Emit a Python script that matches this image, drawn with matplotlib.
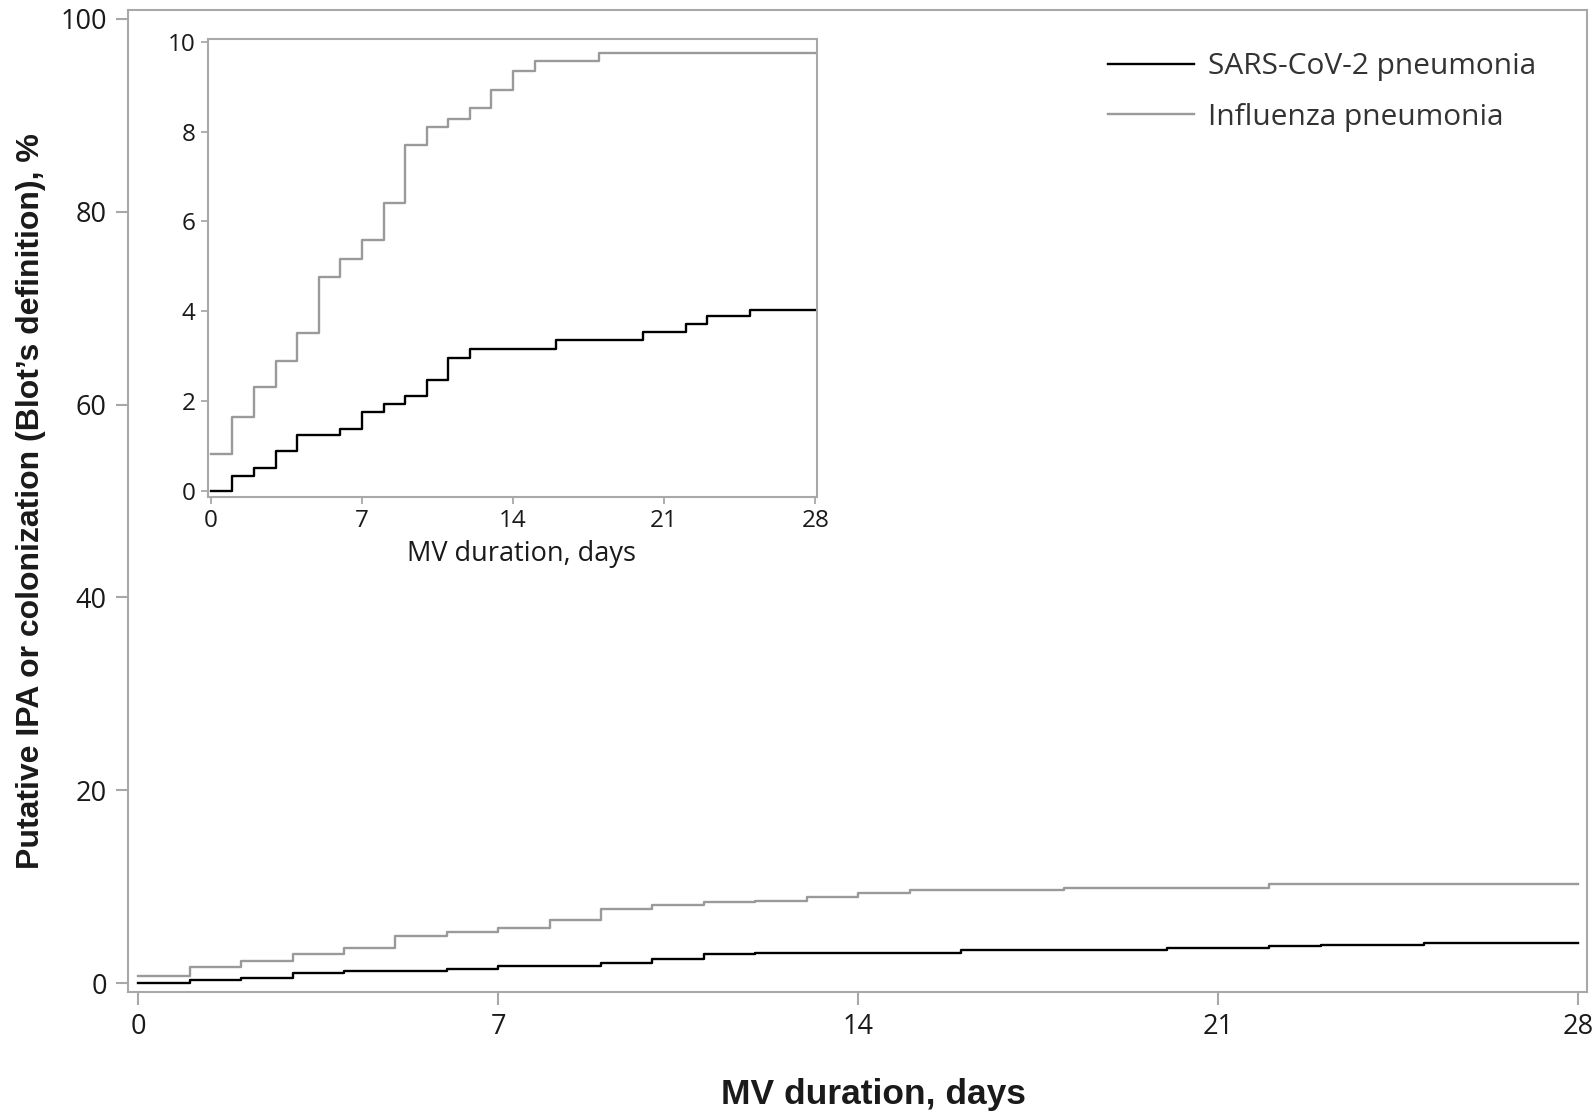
import matplotlib.pyplot as plt
import numpy as np

# step curves, values in %
days_main_sars = [0, 1, 2, 3, 4, 6, 7, 9, 10, 11, 12, 16, 20, 22, 23, 25, 28]
sars_main = [0.0, 0.34, 0.59, 1.03, 1.27, 1.45, 1.83, 2.14, 2.55, 3.0, 3.17, 3.42, 3.62, 3.83, 4.0, 4.17, 4.17]

days_main_flu = [0, 1, 2, 3, 4, 5, 6, 7, 8, 9, 10, 11, 12, 13, 14, 15, 18, 22, 28]
flu_main = [0.79, 1.65, 2.31, 3.0, 3.62, 4.94, 5.28, 5.73, 6.56, 7.66, 8.11, 8.39, 8.53, 8.94, 9.39, 9.63, 9.84, 10.29, 10.29]

# inset (zoomed 0-10 %)
days_in_sars = [0, 1, 2, 3, 4, 6, 7, 8, 9, 10, 11, 12, 16, 20, 22, 23, 25, 28]
sars_in = [0.0, 0.33, 0.52, 0.89, 1.24, 1.38, 1.75, 1.93, 2.12, 2.47, 2.97, 3.16, 3.36, 3.53, 3.72, 3.89, 4.03, 4.03]

days_in_flu = [0, 1, 2, 3, 4, 5, 6, 7, 8, 9, 10, 11, 12, 13, 14, 15, 18, 28]
flu_in = [0.83, 1.64, 2.31, 2.89, 3.52, 4.77, 5.16, 5.59, 6.42, 7.69, 8.11, 8.29, 8.52, 8.92, 9.34, 9.56, 9.75, 9.75]

labels = ["SARS-CoV-2 pneumonia", "Influenza pneumonia"]
xticks = [0, 7, 14, 21, 28]

GRAY = "#9a9a9a"
SPINE = "#a8a8a8"
TXT = "#1a1a1a"
tick_font = "Open Sans"
label_font = "Liberation Sans"

fig = plt.figure(figsize=(15.94, 11.13), dpi=100)
ax = fig.add_axes([0.0801, 0.109, 0.9153, 0.882])

ax.step(days_main_sars, sars_main, where="post", color="black", lw=1.7, label=labels[0])
ax.step(days_main_flu, flu_main, where="post", color=GRAY, lw=1.7, label=labels[1])

ax.set_xlim(-0.206, 28.17)
ax.set_ylim(-0.87, 100.9)
ax.set_xticks(xticks)
ax.set_yticks(np.arange(0, 101, 20))
for s in ax.spines.values():
    s.set_color(SPINE)
    s.set_linewidth(1.5)
ax.tick_params(length=9, width=1.5, color=SPINE, labelcolor=TXT, labelsize=19.5, pad=6)
for lab in ax.get_xticklabels() + ax.get_yticklabels():
    lab.set_fontfamily(tick_font)

ax.set_xlabel("MV duration, days", fontsize=25.5, fontweight="bold", family=label_font, labelpad=27, color=TXT)
ax.xaxis.label.set_x(0.511)
ax.set_ylabel("Putative IPA or colonization (Blot\u2019s definition), %", fontsize=23, fontweight="bold",
              family=label_font, labelpad=10, color=TXT)

leg = ax.legend(loc="upper left", bbox_to_anchor=(0.695, 0.953), bbox_transform=fig.transFigure,
                frameon=False, prop={"family": tick_font, "size": 21.5}, handlelength=2.9,
                handletextpad=0.45, labelspacing=0.72, borderpad=0, borderaxespad=0)
for t in leg.get_texts():
    t.set_color("#333333")

# inset
axi = fig.add_axes([0.1305, 0.5535, 0.382, 0.4115])
axi.step(days_in_sars, sars_in, where="post", color="black", lw=1.7)
axi.step(days_in_flu, flu_in, where="post", color=GRAY, lw=1.7)
axi.set_xlim(-0.13, 28.08)
axi.set_ylim(-0.13, 10.06)
axi.set_xticks(xticks)
axi.set_yticks(np.arange(0, 11, 2))
for s in axi.spines.values():
    s.set_color(SPINE)
    s.set_linewidth(1.5)
axi.tick_params(length=5, width=1.3, color=SPINE, labelcolor=TXT, labelsize=17.5, pad=4)
for lab in axi.get_xticklabels() + axi.get_yticklabels():
    lab.set_fontfamily(tick_font)
axi.set_xlabel("MV duration, days", fontsize=19.5, family=tick_font, color=TXT, labelpad=5)
axi.xaxis.label.set_x(0.515)

fig.savefig("out.png", dpi=100, facecolor="white")
